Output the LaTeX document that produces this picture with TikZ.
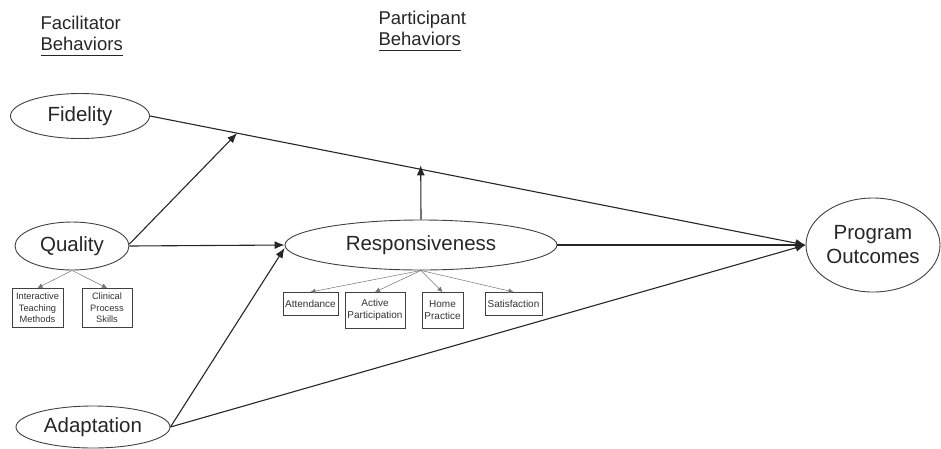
\documentclass[tikz,border=0pt]{standalone}
\usepackage{fontspec}
\setmainfont{Liberation Sans}
\newcommand\thickul[1]{\setbox0\hbox{#1}\rlap{\raisebox{-5.5pt}{\rule{\wd0}{1.4pt}}}\box0}
\usetikzlibrary{shapes.geometric,arrows.meta,calc}
\begin{document}
\begin{tikzpicture}[x=1pt,y=-1pt,
  oval/.style={ellipse,draw=black!75,line width=0.9pt,inner sep=0pt,text=black!85,font=\fontsize{20.5}{24}\selectfont},
  smallbox/.style={draw=black!75,line width=0.8pt,inner sep=0.5pt,align=center,text=black!80,font=\fontsize{10}{12}\selectfont},
  conn/.style={draw=black!85,line width=1.1pt,-{Latex[length=10pt,width=8pt]}},
  subconn/.style={draw=black!55,line width=0.5pt,-{Latex[length=5pt,width=5pt]}},
  heading/.style={align=left,text=black!85,font=\fontsize{18.5}{20.5}\selectfont}]
\useasboundingbox (0,0) rectangle (941,448);

% headings
\node[heading,anchor=north west] (fh) at (37,13) {Facilitator\\\thickul{Behaviors}};
\node[heading,anchor=north west] (ph) at (375,8) {Participant\\\thickul{Behaviors}};

% ellipses
\node[oval,minimum width=139pt,minimum height=45pt] (fid) at (80,116) {Fidelity};
\node[oval,minimum width=114pt,minimum height=48pt] (qual) at (72,246) {Quality};
\node[oval,minimum width=272pt,minimum height=50pt] (resp) at (421,245) {Responsiveness};
\node[oval,minimum width=134pt,minimum height=94pt,align=center] (out) at (873,245) {Program\\Outcomes};
\node[oval,minimum width=154pt,minimum height=42pt] (adap) at (93,427) {Adaptation};

% quality sub-boxes
\node[smallbox,minimum width=51pt,minimum height=39pt,anchor=north,font=\fontsize{9.3}{11.5}\selectfont] (itm) at (37.5,288) {Interactive\\Teaching\\Methods};
\node[smallbox,minimum width=50pt,minimum height=39pt,anchor=north,font=\fontsize{9.3}{11.5}\selectfont] (cps) at (107,288) {Clinical\\Process\\Skills};

% responsiveness sub-boxes
\node[smallbox,minimum width=55pt,minimum height=23pt,anchor=north] (att) at (310.5,292) {Attendance};
\node[smallbox,minimum width=60pt,minimum height=36pt,anchor=north] (act) at (375,292) {Active\\Participation};
\node[smallbox,minimum width=41pt,minimum height=36pt,anchor=north] (home) at (442.5,292) {Home\\Practice};
\node[smallbox,minimum width=57pt,minimum height=23pt,anchor=north] (sat) at (513.5,292) {Satisfaction};

% points on the fidelity path
\coordinate (fq) at ($(fid.east)!0.133!(out.west)$);
\coordinate (fr) at ($(fid.east)!0.413!(out.west)+(0,-4)$);

% connectors
\draw[conn] (fid.east) -- (out.west);
\draw[conn] ($(qual.east)+(0,-2)$) coordinate (qe) -- (fq);
\draw[conn] (qual.east) -- (resp.west);
\draw[conn] (resp.north) -- (fr);
\draw[conn] (resp.east) -- (out.west);
\draw[conn] (adap.east) -- ($(resp.west)+(0,3)$) coordinate (rw);
\draw[conn] (adap.east) -- (out.west);

\draw[subconn] (qual.south) -- (itm.north);
\draw[subconn] (qual.south) -- (cps.north);
\draw[subconn] (resp.south) -- (att.north);
\draw[subconn] (resp.south) -- (act.north);
\draw[subconn] (resp.south) -- (home.north);
\draw[subconn] (resp.south) -- (sat.north);
\end{tikzpicture}
\end{document}
